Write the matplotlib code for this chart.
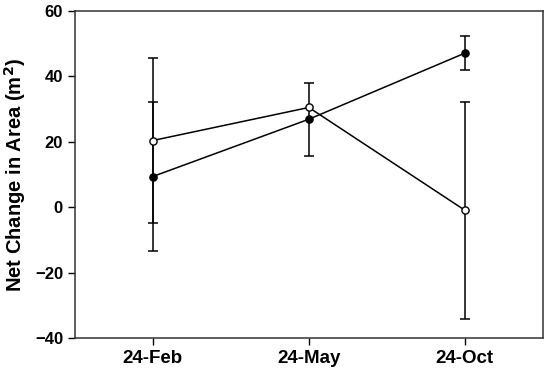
import numpy as np
import matplotlib.pyplot as plt

plt.rcParams['font.family'] = ['Liberation Sans', 'DejaVu Sans']

dates = ["24-Feb", "24-May", "24-Oct"]
filled_mean = [9.4, 26.9, 47.1]
filled_err = [22.8, 11.2, 5.3]
open_mean = [20.4, 30.5, -0.9]
open_err = [25.3, np.nan, 33.1]

x = np.arange(len(dates))

fig = plt.figure(figsize=(5.5, 3.77), dpi=100)
ax = fig.add_axes([0.136, 0.103, 0.851, 0.868])

ax.errorbar(x, filled_mean, yerr=filled_err, color="black", marker="o",
            markersize=5.2, markerfacecolor="black", markeredgecolor="black",
            linewidth=1.1, elinewidth=1.1, capsize=3.3, capthick=1.1, zorder=3)
ax.errorbar(x, open_mean, yerr=open_err, color="black", marker="o",
            markersize=5.2, markerfacecolor="white", markeredgecolor="black",
            linewidth=1.1, elinewidth=1.1, capsize=3.3, capthick=1.1, zorder=4)

ax.set_xlim(-0.5, 2.5)
ax.set_ylim(-40, 60)
ax.set_yticks([-40, -20, 0, 20, 40, 60])
ax.set_yticklabels(["\u221240", "\u221220", "0", "20", "40", "60"])
ax.set_xticks(x)
ax.set_xticklabels(dates)

ax.tick_params(axis="both", direction="out", length=5, width=1, top=False, right=False)
for lbl in ax.get_yticklabels():
    lbl.set_fontsize(12)
    lbl.set_fontweight("bold")
for lbl in ax.get_xticklabels():
    lbl.set_fontsize(13.5)
    lbl.set_fontweight("bold")

for s in ax.spines.values():
    s.set_linewidth(1.1)
    s.set_color("#333333")

ax.set_ylabel("Net Change in Area (m$^\\mathbf{2}$)", fontsize=14.5, fontweight="bold", labelpad=5)

fig.savefig("out.png", dpi=100)
